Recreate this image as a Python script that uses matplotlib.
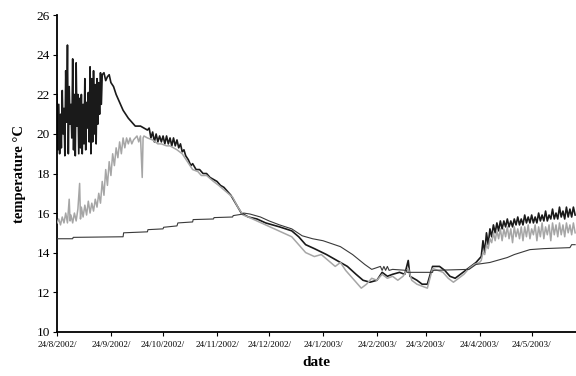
import matplotlib
matplotlib.use('Agg')
import matplotlib.pyplot as plt
import numpy as np
import pandas as pd

# ── data (days since 24/8/2002, temperature in °C) ─────────────────────────
START = pd.Timestamp("2002-08-24")

black_days = [0, 0.5, 1, 1.5, 2, 2.5, 3, 3.5, 4, 4.5, 5, 5.5, 6, 6.5, 7, 7.5, 8, 8.5,
              9, 9.5, 10, 10.5, 11, 11.5, 12, 12.5, 13, 13.5, 14, 14.5, 15, 15.5, 16,
              16.5, 17, 17.5, 18, 18.5, 19, 19.5, 20, 20.5, 21, 21.5, 22, 22.5, 23,
              23.5, 24, 24.5, 25, 25.5, 26,
              27, 28, 29, 30, 31, 32.5, 34, 36, 38, 41, 43, 45, 48,
              50, 52, 53, 54, 55, 56, 57, 58, 59, 60, 61, 62, 63, 64, 65, 66, 67, 68,
              69, 70, 71, 72, 73, 74, 75.5, 77, 78, 80, 82, 84, 86, 88, 90, 92, 94,
              96, 98, 100, 102, 104, 106, 108,
              110, 115, 120, 128, 135, 139, 143, 148, 155, 161, 167, 172, 176, 180,
              184, 187, 190, 193, 197, 200, 202, 203, 207, 210, 213, 216, 220, 223,
              226, 229, 232, 235, 238, 241, 243,
              244, 245, 246, 247, 248, 249, 250, 251, 252, 253, 254, 255, 256, 257,
              258, 259, 260, 261, 262, 263, 264, 265, 266, 267, 268, 269, 270, 271,
              272, 273, 274, 275, 276, 277, 278, 279, 280, 281, 282, 283, 284, 285,
              286, 287, 288, 289, 290, 291, 292, 293, 294, 295, 296, 297, 298]
black_temp = [22.0, 19.2, 21.5, 19.0, 21.0, 19.3, 22.2, 20.0, 21.3, 18.9, 23.2, 20.6,
              24.5, 19.0, 22.4, 20.5, 21.5, 19.8, 23.8, 19.2, 22.0, 18.9, 23.6, 20.4,
              22.0, 19.0, 21.8, 19.3, 22.0, 19.0, 21.5, 19.5, 22.8, 19.2, 21.6, 20.3,
              22.1, 19.6, 23.4, 19.0, 22.8, 19.6, 23.2, 20.0, 22.5, 19.5, 22.8, 20.5,
              22.6, 21.0, 23.1, 21.5, 23.0,
              23.1, 22.7, 22.9, 23.0, 22.6, 22.4, 22.0, 21.6, 21.2, 20.8, 20.6, 20.4, 20.4,
              20.3, 20.2, 20.3, 19.8, 20.1, 19.6, 20.0, 19.6, 19.9, 19.6, 19.9, 19.5,
              19.9, 19.5, 19.8, 19.4, 19.8, 19.4, 19.7, 19.3, 19.5, 19.1, 19.2, 18.9,
              18.7, 18.4, 18.5, 18.2, 18.2, 18.0, 18.0, 17.8, 17.7, 17.6, 17.4,
              17.3, 17.1, 16.9, 16.6, 16.3, 16.0, 15.9,
              15.8, 15.7, 15.5, 15.3, 15.1, 14.8, 14.4, 14.2, 13.9, 13.6, 13.3, 12.9,
              12.6, 12.5, 12.6, 13.0, 12.8, 12.9, 13.0, 12.9, 13.6, 12.8, 12.6, 12.4,
              12.4, 13.3, 13.3, 13.1, 12.8, 12.7, 12.9, 13.1, 13.3, 13.5, 13.7,
              13.8, 14.6, 14.0, 15.0, 14.4, 15.2, 14.8, 15.4, 15.0, 15.5, 15.1, 15.6,
              15.2, 15.6, 15.3, 15.7, 15.3, 15.6, 15.3, 15.7, 15.4, 15.8, 15.4, 15.7,
              15.4, 15.9, 15.5, 15.8, 15.5, 15.9, 15.5, 15.8, 15.5, 16.0, 15.6, 15.9,
              15.6, 16.1, 15.6, 15.9, 15.7, 16.2, 15.7, 16.0, 15.7, 16.3, 15.8, 16.1,
              15.7, 16.3, 15.8, 16.2, 15.8, 16.3, 15.9]

gray_days = [0, 1, 2, 3, 4, 5, 6, 7, 7.5, 8, 9, 10, 11, 12, 13, 13.5, 14, 15, 16, 17,
             18, 19, 20, 21, 22, 23, 24, 25, 26, 27, 28, 29, 30, 31, 32, 33, 34, 35,
             36, 37, 38, 39, 40, 41, 42, 43, 44, 45, 46, 47, 48, 49, 49.5, 50,
             52, 55, 58, 60, 63, 65, 69, 72, 75, 78, 81, 83, 86, 90, 93, 97, 101, 104,
             107, 110,
             115, 120, 125, 130, 135, 140, 143, 148, 152, 156, 160, 163, 166, 170,
             173, 175, 178, 181, 184, 187, 190, 193, 196, 199, 202, 204, 207, 210,
             213, 216, 219, 222, 225, 228, 231, 234, 237, 240, 243,
             244, 245, 246, 247, 248, 249, 250, 251, 252, 253, 254, 255, 256, 257,
             258, 259, 260, 261, 262, 263, 264, 265, 266, 267, 268, 269, 270, 271,
             272, 273, 274, 275, 276, 277, 278, 279, 280, 281, 282, 283, 284, 285,
             286, 287, 288, 289, 290, 291, 292, 293, 294, 295, 296, 297, 298]
gray_temp = [15.5, 15.7, 15.4, 15.8, 15.5, 16.0, 15.5, 16.7, 15.6, 15.9, 15.5, 16.0,
             15.6, 16.2, 17.5, 15.7, 16.3, 15.8, 16.4, 15.9, 16.6, 16.0, 16.5, 16.1,
             16.7, 16.3, 17.0, 16.5, 17.6, 16.9, 18.2, 17.4, 18.6, 17.9, 19.0, 18.4,
             19.3, 18.8, 19.6, 19.0, 19.8, 19.3, 19.8, 19.5, 19.8, 19.5, 19.7, 19.8,
             19.9, 19.6, 19.9, 17.8, 19.8, 19.9,
             19.8, 19.7, 19.5, 19.5, 19.4, 19.4, 19.2, 19.0, 18.6, 18.2, 18.1, 17.9,
             17.9, 17.6, 17.4, 17.1, 16.8, 16.3, 15.9, 15.8,
             15.6, 15.4, 15.2, 15.0, 14.8, 14.3, 14.0,
             13.8, 13.9, 13.6, 13.3, 13.5, 13.1, 12.7, 12.4, 12.2, 12.4, 12.7, 12.6,
             12.9, 12.7, 12.8, 12.6, 12.8, 13.2, 12.6, 12.4, 12.3, 12.2, 13.2, 13.1,
             13.0, 12.7, 12.5, 12.7, 12.9, 13.2, 13.4, 13.5,
             13.6, 14.0, 13.9, 14.4, 14.2, 14.7, 14.5, 15.0, 14.6, 15.1, 14.7, 15.2,
             14.6, 15.2, 14.8, 15.3, 14.7, 15.2, 14.5, 15.3, 14.8, 15.2, 14.7, 15.3,
             14.6, 15.3, 14.8, 15.4, 14.7, 15.2, 14.9, 15.4, 14.6, 15.3, 14.8, 15.5,
             14.7, 15.3, 14.9, 15.4, 14.6, 15.5, 14.9, 15.4, 14.8, 15.5, 14.9, 15.4,
             14.8, 15.5, 15.0, 15.4, 14.9, 15.5, 15.0]

thin_days = [0, 9, 9.3, 38, 38.3, 52, 52.3, 61, 61.3, 69, 69.5, 78, 78.3, 90, 90.3,
             101, 101.3, 107, 107.3, 111, 117, 122, 128, 135, 141, 147, 153, 163, 170,
             177, 181, 186, 187, 188, 189, 190, 191, 193, 201, 201.3, 216, 216.3, 237,
             241, 249, 259, 263, 272, 280, 295, 296, 298]
thin_temp = [14.7, 14.7, 14.77, 14.8, 15.0, 15.05, 15.16, 15.2, 15.28, 15.35, 15.5,
             15.55, 15.67, 15.7, 15.77, 15.8, 15.87, 15.95, 16.0, 15.95, 15.8, 15.6,
             15.4, 15.2, 14.85, 14.7, 14.6, 14.3, 13.9, 13.4, 13.15, 13.3, 13.1, 13.3,
             13.1, 13.3, 13.1, 13.15, 13.1, 13.0, 13.0, 13.1, 13.15, 13.4, 13.5, 13.75,
             13.9, 14.15, 14.2, 14.25, 14.4, 14.4]

tick_dates = ["2002-08-24", "2002-09-24", "2002-10-24", "2002-11-24", "2002-12-24",
              "2003-01-24", "2003-02-24", "2003-03-24", "2003-04-24", "2003-05-24"]
tick_labels = ["24/8/2002/", "24/9/2002/", "24/10/2002/", "24/11/2002/", "24/12/2002/",
               "24/1/2003/", "24/2/2003/", "24/3/2003/", "24/4/2003/", "24/5/2003/"]


def to_dates(days):
    return START + pd.to_timedelta(np.asarray(days, dtype=float), unit="D")


plt.rcParams.update({
    "font.family": ["Liberation Serif", "DejaVu Serif"],
    "axes.linewidth": 1.3,
})

fig = plt.figure(figsize=(5.76, 3.76), dpi=100)
ax = fig.add_axes([0.099, 0.118, 0.901, 0.841])

ax.plot(to_dates(black_days), black_temp, color="#1a1a1a", lw=1.2, zorder=2)
ax.plot(to_dates(gray_days), gray_temp, color="#a6a6a6", lw=1.1, zorder=3)
ax.plot(to_dates(thin_days), thin_temp, color="#3a3a3a", lw=0.8, zorder=4)

ax.set_ylim(10, 26)
ax.set_yticks(np.arange(10, 27, 2))
ax.set_xlim(to_dates([0])[0], to_dates([298.5])[0])
ax.set_xticks(pd.to_datetime(tick_dates))
ax.set_xticklabels(tick_labels, fontsize=6.6)
ax.tick_params(axis="y", labelsize=9.5, length=3, width=0.8, direction="out", pad=2)
ax.tick_params(axis="x", length=3, width=0.8, direction="out", pad=4)

for s in ["top", "right"]:
    ax.spines[s].set_visible(False)

ax.set_xlabel("date", fontsize=11, fontweight="bold", labelpad=5)
ax.set_ylabel("temperature °C", fontsize=10.5, fontweight="bold", labelpad=8)

fig.savefig("out.png", dpi=100)
